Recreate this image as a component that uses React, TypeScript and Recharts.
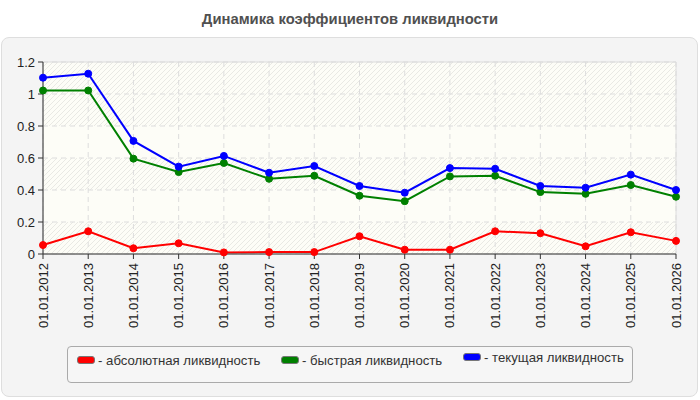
import React from "react";
import {
  LineChart,
  Line,
  XAxis,
  YAxis,
  CartesianGrid,
  ReferenceArea,
} from "recharts";

const categories = [
  "01.01.2012", "01.01.2013", "01.01.2014", "01.01.2015", "01.01.2016",
  "01.01.2017", "01.01.2018", "01.01.2019", "01.01.2020", "01.01.2021",
  "01.01.2022", "01.01.2023", "01.01.2024", "01.01.2025", "01.01.2026",
];

const absoluteLiquidity = [0.056, 0.142, 0.036, 0.067, 0.01, 0.012, 0.012, 0.111, 0.027, 0.027, 0.142, 0.13, 0.048, 0.136, 0.082];
const quickLiquidity = [1.022, 1.022, 0.596, 0.512, 0.569, 0.47, 0.489, 0.364, 0.33, 0.485, 0.489, 0.387, 0.376, 0.431, 0.358];
const currentLiquidity = [1.102, 1.127, 0.707, 0.546, 0.613, 0.508, 0.55, 0.425, 0.383, 0.537, 0.533, 0.425, 0.414, 0.496, 0.4];

const yTicks = [0, 0.2, 0.4, 0.6, 0.8, 1, 1.2];

const seriesNames = ["- абсолютная ликвидность", "- быстрая ликвидность", "- текущая ликвидность"];
const seriesKeys = ["abs", "quick", "current"];
const seriesColors = ["#ff0000", "#008000", "#0000ff"];

const title = "Динамика коэффициентов ликвидности";

const data = categories.map((c, i) => ({
  date: c,
  abs: absoluteLiquidity[i],
  quick: quickLiquidity[i],
  current: currentLiquidity[i],
}));

const FONT = "'Liberation Sans', Arial, sans-serif";

const XTick = (props: any) => {
  const { x, y, payload } = props;
  return (
    <g transform={`translate(${x},${y})`}>
      <text
        x={0}
        y={0}
        dy={4.5}
        transform="rotate(-90)"
        textAnchor="end"
        fill="#222"
        fontSize={13}
        fontFamily={FONT}
      >
        {payload.value}
      </text>
    </g>
  );
};

const legendTops = [360, 360, 357];

export default function App() {
  return (
    <div
      style={{
        position: "absolute",
        left: 0,
        top: 0,
        width: 700,
        height: 400,
        background: "#ffffff",
        fontFamily: FONT,
      }}
    >
      <div
        style={{
          position: "absolute",
          left: 0,
          top: 11,
          width: 700,
          textAlign: "center",
          fontWeight: "bold",
          fontSize: 14.8,
          color: "#505050",
        }}
      >
        {title}
      </div>
      <div
        style={{
          position: "absolute",
          left: 1,
          top: 37,
          width: 695,
          height: 358,
          background: "#f4f4f4",
          border: "1px solid #dedede",
          borderRadius: 8,
        }}
      />
      <div style={{ position: "absolute", left: 0, top: 0 }}>
        <LineChart
          width={700}
          height={400}
          data={data}
          margin={{ top: 62, right: 24, left: 0, bottom: 0 }}
        >
          <defs>
            <pattern id="hatch" width="5" height="5" patternUnits="userSpaceOnUse">
              <rect x="0" y="0" width="5" height="5" fill="#fdfdf7" />
              <path d="M-1,1 l2,-2 M0,5 l5,-5 M4,6 l2,-2" stroke="#e9e9e4" strokeWidth="1" />
            </pattern>
          </defs>
          <CartesianGrid
            stroke="#dddddd"
            strokeDasharray="5 4"
            fill="#fdfdf7"
            fillOpacity={1}
            horizontalFill={["url(#hatch)", "url(#hatch)", "#fdfdf7", "url(#hatch)", "#fdfdf7", "url(#hatch)"]}
          />
          <ReferenceArea y1={0} y2={1.2} fill="none" stroke="#dcdcdc" strokeWidth={1} />
          <XAxis
            dataKey="date"
            height={146}
            interval={0}
            tick={<XTick />}
            tickSize={5}
            tickMargin={4}
            stroke="#333"
            axisLine={{ stroke: "#333" }}
            tickLine={{ stroke: "#333" }}
          />
          <YAxis
            width={43}
            domain={[0, 1.2]}
            ticks={yTicks}
            interval={0}
            tickSize={5}
            tickMargin={3}
            stroke="#333"
            tick={{ fill: "#222", fontSize: 13, fontFamily: FONT }}
          />
          {seriesKeys.map((k, i) => (
            <Line
              key={k}
              type="linear"
              dataKey={k}
              stroke={seriesColors[i]}
              strokeWidth={2}
              dot={{ r: 3.5, fill: seriesColors[i], stroke: seriesColors[i], strokeWidth: 1 }}
              activeDot={false}
              isAnimationActive={false}
            />
          ))}
        </LineChart>
      </div>
      <div
        style={{
          position: "absolute",
          left: 67,
          top: 346,
          width: 564,
          height: 35,
          border: "1px solid #aaaaaa",
          borderRadius: 4,
          background: "#f6f6f6",
        }}
      />
      {seriesNames.map((n, i) => (
        <div
          key={n}
          style={{
            position: "absolute",
            left: [77, 281, 463][i],
            top: legendTops[i] - 8,
            height: 16,
            display: "flex",
            alignItems: "center",
            whiteSpace: "nowrap",
            fontSize: 13.2,
            color: "#333",
          }}
        >
          <span
            style={{
              display: "inline-block",
              width: 16,
              height: 6,
              background: seriesColors[i],
              border: "1px solid #777",
              borderRadius: 3,
              marginRight: 3,
            }}
          />
          {n}
        </div>
      ))}
    </div>
  );
}
